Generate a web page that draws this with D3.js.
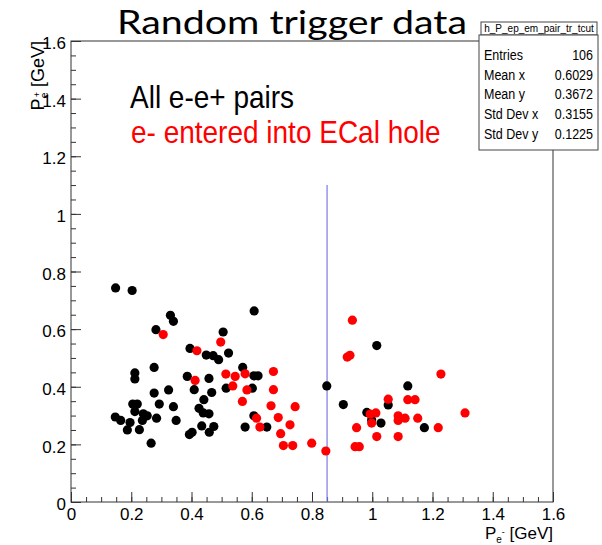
<!DOCTYPE html>
<html>
<head>
<meta charset="utf-8">
<script src="https://cdn.jsdelivr.net/npm/d3@7"></script>
<style>
  body { margin: 0; background: #fff; }
  svg { display: block; }
  .root-text { font-family: "Liberation Sans", Arial, sans-serif; }
</style>
</head>
<body>
<div id="chart"></div>
<script>
(function() {

  // e-e+ pairs (all)
  var blackX = [0.148, 0.203, 0.330, 0.340, 0.282, 0.505, 0.608, 0.395, 0.449, 0.472,
    0.490, 0.523, 0.276, 0.212, 0.212, 0.386, 0.458, 0.570, 0.607, 0.621,
    0.515, 0.409, 0.467, 0.324, 0.276, 0.602, 0.441, 0.205, 0.220, 0.293,
    0.340, 0.425, 0.439, 0.458, 0.212, 0.240, 0.253, 0.147, 0.165, 0.196,
    0.237, 0.284, 0.349, 0.187, 0.227, 0.607, 0.578, 0.650, 0.434, 0.474,
    0.459, 0.402, 0.393, 0.266, 0.849, 0.904, 1.015, 1.118, 1.053, 0.982,
    0.998, 1.029, 1.173];
  var blackY = [0.743, 0.734, 0.648, 0.627, 0.598, 0.590, 0.663, 0.533, 0.510, 0.508,
    0.494, 0.517, 0.467, 0.448, 0.427, 0.436, 0.429, 0.467, 0.438, 0.438,
    0.395, 0.390, 0.380, 0.389, 0.378, 0.395, 0.355, 0.340, 0.340, 0.340,
    0.331, 0.325, 0.309, 0.306, 0.314, 0.306, 0.299, 0.295, 0.283, 0.276,
    0.283, 0.291, 0.283, 0.250, 0.251, 0.299, 0.260, 0.260, 0.264, 0.262,
    0.242, 0.242, 0.234, 0.204, 0.403, 0.338, 0.543, 0.403, 0.337, 0.311,
    0.285, 0.274, 0.258];

  // e- entered into ECal hole
  var redX = [0.306, 0.497, 0.418, 0.412, 0.514, 0.545, 0.578, 0.537, 0.584, 0.569,
    0.616, 0.627, 0.664, 0.672, 0.672, 0.744, 0.688, 0.727, 0.696, 0.705,
    0.736, 0.799, 0.846, 0.934, 0.917, 0.926, 0.948, 0.943, 0.957, 1.228,
    1.053, 1.118, 1.142, 0.993, 1.012, 0.998, 1.086, 1.086, 1.109, 1.151,
    1.308, 1.219, 1.015, 1.086];
  var redY = [0.581, 0.555, 0.525, 0.422, 0.444, 0.436, 0.445, 0.403, 0.389, 0.349,
    0.291, 0.260, 0.334, 0.453, 0.390, 0.331, 0.293, 0.268, 0.237, 0.196,
    0.196, 0.204, 0.177, 0.631, 0.503, 0.509, 0.258, 0.192, 0.192, 0.444,
    0.357, 0.355, 0.355, 0.305, 0.309, 0.274, 0.299, 0.283, 0.291, 0.291,
    0.309, 0.258, 0.227, 0.227];

  var majorTicks = [0, 0.2, 0.4, 0.6, 0.8, 1, 1.2, 1.4, 1.6];
  var tickLabels = ["0", "0.2", "0.4", "0.6", "0.8", "1", "1.2", "1.4", "1.6"];

  var cutX = 0.85, cutTop = 1.1;

  var statNames = ["Entries", "Mean x", "Mean y", "Std Dev x", "Std Dev y"];
  var statValues = ["106", "0.6029", "0.3672", "0.3155", "0.1225"];

  var width = 602, height = 545;
  var frame = {left: 71, right: 553, top: 41, bottom: 502};

  var svg = d3.select("#chart")
    .append("svg")
    .attr("width", width)
    .attr("height", height);

  var x = d3.scaleLinear().domain([0, 1.6]).range([frame.left, frame.right]);
  var y = d3.scaleLinear().domain([0, 1.6]).range([frame.bottom, frame.top]);

  var minor = d3.range(0, 1.6001, 0.05);

  // frame
  svg.append("rect")
    .attr("x", frame.left)
    .attr("y", frame.top)
    .attr("width", frame.right - frame.left)
    .attr("height", frame.bottom - frame.top)
    .attr("fill", "none")
    .attr("stroke", "#333")
    .attr("stroke-width", 1);

  // minor ticks first, no labels
  svg.append("g")
    .attr("transform", "translate(0," + frame.bottom + ")")
    .call(d3.axisBottom(x).tickValues(minor).tickSize(-5).tickFormat(""))
    .call(function(g) { g.select(".domain").remove(); });
  svg.append("g")
    .attr("transform", "translate(" + frame.left + ",0)")
    .call(d3.axisLeft(y).tickValues(minor).tickSize(-5).tickFormat(""))
    .call(function(g) { g.select(".domain").remove(); });

  var xAxis = svg.append("g")
    .attr("class", "root-text")
    .attr("transform", "translate(0," + frame.bottom + ")")
    .call(d3.axisBottom(x).tickValues(majorTicks).tickSize(-10).tickPadding(6)
      .tickFormat(function(d, i) { return tickLabels[i]; }));
  xAxis.select(".domain").remove();

  var yAxis = svg.append("g")
    .attr("class", "root-text")
    .attr("transform", "translate(" + frame.left + ",0)")
    .call(d3.axisLeft(y).tickValues(majorTicks).tickSize(-10).tickPadding(5)
      .tickFormat(function(d, i) { return tickLabels[i]; }));
  yAxis.select(".domain").remove();

  svg.selectAll(".tick line").attr("stroke", "#333");
  svg.selectAll(".tick text")
    .attr("font-size", 17)
    .attr("font-family", "Liberation Sans, Arial, sans-serif")
    .attr("fill", "#000");
  yAxis.selectAll(".tick text").attr("dy", "0.45em");

  // axis titles
  var xl = svg.append("text")
    .attr("class", "root-text")
    .attr("x", frame.right)
    .attr("y", 539)
    .attr("text-anchor", "end")
    .attr("font-size", 17);
  xl.append("tspan").text("P");
  xl.append("tspan").attr("font-size", 10).attr("dy", 4).text("e");
  xl.append("tspan").attr("font-size", 9).attr("dy", -8).text("-");
  xl.append("tspan").attr("dy", 4).text(" [GeV]");

  var yl = svg.append("text")
    .attr("class", "root-text")
    .attr("transform", "translate(44," + frame.top + ") rotate(-90)")
    .attr("text-anchor", "end")
    .attr("font-size", 18);
  yl.append("tspan").text("P");
  yl.append("tspan").attr("font-size", 11).attr("dy", 4).text("e");
  yl.append("tspan").attr("font-size", 9).attr("dy", -8).attr("dx", -5).text("+");
  yl.append("tspan").attr("dy", 4).text(" [GeV]");

  // cut line
  svg.append("line")
    .attr("x1", x(cutX))
    .attr("x2", x(cutX))
    .attr("y1", y(0))
    .attr("y2", y(cutTop))
    .attr("stroke", "#7a7ae6")
    .attr("stroke-width", 1.2);

  var blackPts = blackX.map(function(d, i) { return {x: d, y: blackY[i]}; });
  var redPts = redX.map(function(d, i) { return {x: d, y: redY[i]}; });

  svg.append("g").selectAll("circle")
    .data(blackPts)
    .enter().append("circle")
    .attr("cx", function(d) { return x(d.x); })
    .attr("cy", function(d) { return y(d.y); })
    .attr("r", 4.6)
    .attr("fill", "#000");

  svg.append("g").selectAll("circle")
    .data(redPts)
    .enter().append("circle")
    .attr("cx", function(d) { return x(d.x); })
    .attr("cy", function(d) { return y(d.y); })
    .attr("r", 4.6)
    .attr("fill", "#ff0000");

  // stats box
  svg.append("rect")
    .attr("x", 481).attr("y", 22).attr("width", 116).attr("height", 13)
    .attr("fill", "#fff").attr("stroke", "#444");
  svg.append("rect")
    .attr("x", 479).attr("y", 35).attr("width", 119).attr("height", 115)
    .attr("fill", "#fff").attr("stroke", "#444");
  svg.append("text")
    .attr("class", "root-text")
    .attr("x", 539).attr("y", 32)
    .attr("text-anchor", "middle")
    .attr("font-size", 10)
    .text("h_P_ep_em_pair_tr_tcut");

  var rows = svg.append("g").selectAll("g")
    .data(statNames)
    .enter().append("g")
    .attr("transform", function(d, i) { return "translate(0," + (60 + i * 19.7) + ") scale(1,1.15)"; });
  rows.append("text")
    .attr("class", "root-text")
    .attr("x", 484)
    .attr("font-size", 12.5)
    .text(function(d) { return d; });
  rows.append("text")
    .attr("class", "root-text")
    .attr("x", 593)
    .attr("text-anchor", "end")
    .attr("font-size", 12.5)
    .text(function(d, i) { return statValues[i]; });

  // slide title and notes
  svg.append("text")
    .attr("x", 117)
    .attr("y", 34)
    .attr("font-family", "Lato, 'Open Sans', sans-serif")
    .attr("font-size", 33)
    .attr("textLength", 350)
    .attr("lengthAdjust", "spacingAndGlyphs")
    .text("Random trigger data");

  svg.append("text")
    .attr("class", "root-text")
    .attr("transform", "translate(130,108) scale(1,1.15)")
    .attr("font-size", 28)
    .attr("fill", "#000")
    .text("All e-e+ pairs");

  svg.append("text")
    .attr("class", "root-text")
    .attr("transform", "translate(131,143) scale(1,1.15)")
    .attr("font-size", 28)
    .attr("fill", "#ff0000")
    .text("e- entered into ECal hole");

})();
</script>
</body>
</html>
